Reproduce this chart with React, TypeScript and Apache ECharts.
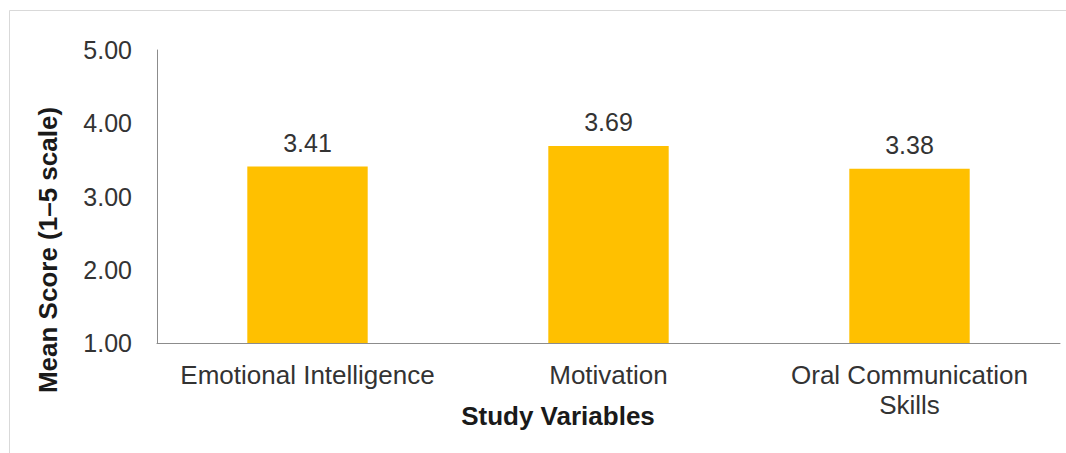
import React, { useEffect, useRef } from "react";
import * as echarts from "echarts";

const categories = ["Emotional Intelligence", "Motivation", "Oral Communication\nSkills"];
const meanScores = [3.41, 3.69, 3.38];
const yTicks = [1, 2, 3, 4, 5];
const xAxisTitle = "Study Variables";
const yAxisTitle = "Mean Score (1–5 scale)";

export default function App() {
  const ref = useRef<HTMLDivElement>(null);
  useEffect(() => {
    if (!ref.current) return;
    const chart = echarts.init(ref.current, null, { renderer: "svg" });
    const font = "Arial, 'Liberation Sans', sans-serif";
    chart.setOption({
      animation: false,
      backgroundColor: "#ffffff",
      grid: { left: 157, right: 6, top: 50, bottom: 110, containLabel: false },
      xAxis: {
        type: "category",
        data: categories,
        axisLine: { show: true, lineStyle: { color: "#8c8c8c", width: 1 } },
        axisTick: { show: false },
        axisLabel: {
          color: "#333333",
          fontSize: 26,
          fontFamily: font,
          margin: 17,
          lineHeight: 30,
          interval: 0,
        },
      },
      yAxis: {
        type: "value",
        min: yTicks[0],
        max: yTicks[yTicks.length - 1],
        interval: 1,
        axisLine: { show: true, lineStyle: { color: "#8c8c8c", width: 1 } },
        axisTick: { show: false },
        splitLine: { show: false },
        axisLabel: {
          color: "#333333",
          fontSize: 25,
          fontFamily: font,
          margin: 25,
          formatter: (v: number) => v.toFixed(2),
        },
      },
      series: [
        {
          type: "bar",
          data: meanScores,
          barWidth: "40%",
          itemStyle: { color: "#FFC000" },
          label: {
            show: true,
            position: "top",
            distance: 11,
            color: "#333333",
            fontSize: 25,
            fontFamily: font,
            formatter: (p: any) => Number(p.value).toFixed(2),
          },
        },
      ],
      graphic: [
        {
          type: "polyline",
          shape: { points: [[9.5, 460], [9.5, 10.5], [1070, 10.5]] },
          style: { stroke: "#d9d9d9", lineWidth: 1, fill: "none" },
          silent: true,
        },
        {
          type: "text",
          x: 558,
          y: 416,
          style: {
            text: xAxisTitle,
            fill: "#1a1a1a",
            font: `bold 26px ${font}`,
            textAlign: "center",
            textVerticalAlign: "middle",
          },
        },
        {
          type: "text",
          x: 48,
          y: 250,
          rotation: Math.PI / 2,
          style: {
            text: yAxisTitle,
            fill: "#1a1a1a",
            font: `bold 26px ${font}`,
            textAlign: "center",
            textVerticalAlign: "middle",
          },
        },
      ],
    });
    return () => chart.dispose();
  }, []);
  return (
    <div
      ref={ref}
      style={{ position: "absolute", left: 0, top: 0, width: 1066, height: 453 }}
    />
  );
}
